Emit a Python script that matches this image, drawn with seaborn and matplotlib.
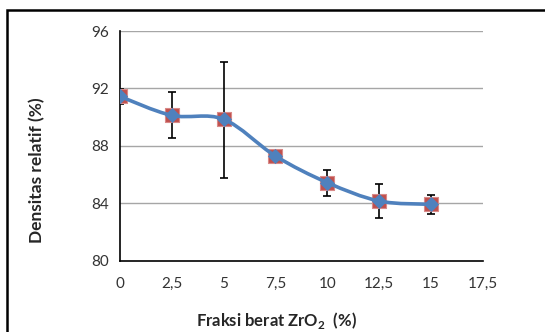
import numpy as np
import pandas as pd
import matplotlib
matplotlib.use("Agg")
import matplotlib.pyplot as plt
import seaborn as sns
from matplotlib.path import Path
from matplotlib.patches import PathPatch, Rectangle

# data
fraksi = [0, 2.5, 5, 7.5, 10, 12.5, 15]
densitas = [91.45, 90.13, 89.86, 87.3, 85.45, 84.17, 83.94]
err_atas = [0.5, 1.63, 4.0, 0.0, 0.87, 1.15, 0.65]
err_bawah = [0.5, 1.6, 4.06, 0.0, 0.9, 1.16, 0.69]
xticks = [0, 2.5, 5, 7.5, 10, 12.5, 15, 17.5]
xticklabels = ["0", "2,5", "5", "7,5", "10", "12,5", "15", "17,5"]
yticks = [80, 84, 88, 92, 96]

df = pd.DataFrame({"x": fraksi, "y": densitas})

sns.set_theme(style="white")
plt.rcParams["font.family"] = ["Lato", "DejaVu Sans"]
plt.rcParams["mathtext.fontset"] = "custom"
plt.rcParams["mathtext.bf"] = "Lato:bold"
plt.rcParams["mathtext.rm"] = "Lato"

fig = plt.figure(figsize=(5.45, 3.32), dpi=100)
ax = fig.add_axes([0.220, 0.214, 0.666, 0.6926])

# outer frame like the pasted Excel box
fig.patches.append(Rectangle((6.5 / 545, -0.1), 1.2, 1 - 10.5 / 332 + 0.1,
                             transform=fig.transFigure, fill=False,
                             edgecolor="black", linewidth=1.8, zorder=0))

for yv in yticks[1:]:
    ax.axhline(yv, color="#A6A6A6", lw=1.0, zorder=1)

ax.errorbar(fraksi, densitas, yerr=[err_bawah, err_atas], fmt="none",
            ecolor="black", elinewidth=1.2, capsize=3, capthick=1.2, zorder=2)

sns.scatterplot(data=df, x="x", y="y", marker="s", s=95, color="#C0504D",
                edgecolor="#D98A88", linewidth=0.8, ax=ax, zorder=3)

# smoothed line (Excel style Catmull-Rom -> bezier)
pts = np.column_stack([fraksi, densitas])
verts = [tuple(pts[0])]
codes = [Path.MOVETO]
n = len(pts)
for i in range(n - 1):
    p0 = pts[max(i - 1, 0)]
    p1 = pts[i]
    p2 = pts[i + 1]
    p3 = pts[min(i + 2, n - 1)]
    c1 = p1 + (p2 - p0) / 6
    c2 = p2 - (p3 - p1) / 6
    verts += [tuple(c1), tuple(c2), tuple(p2)]
    codes += [Path.CURVE4] * 3
ax.add_patch(PathPatch(Path(verts, codes), fill=False, edgecolor="#4F81BD",
                       lw=2.6, zorder=4, capstyle="round", joinstyle="round"))

sns.scatterplot(data=df, x="x", y="y", marker="D", s=60, color="#4F81BD",
                edgecolor="#4F81BD", linewidth=0, ax=ax, zorder=5)

ax.set_xlim(0, 17.5)
ax.set_ylim(80, 96)
ax.set_xticks(xticks)
ax.set_xticklabels(xticklabels)
ax.set_yticks(yticks)
for s in ["top", "right"]:
    ax.spines[s].set_visible(False)
for s in ["left", "bottom"]:
    ax.spines[s].set_color("black")
    ax.spines[s].set_linewidth(1.2)
ax.tick_params(axis="both", direction="inout", length=7, width=1.1,
               color="black", labelsize=11, labelcolor="#333333", pad=4)
ax.tick_params(axis="x", pad=8)
ax.set_xlabel("Fraksi berat ZrO$_{\\mathbf{2}}$  (%)", fontsize=12, fontweight="bold")
ax.set_ylabel("Densitas relatif (%)", fontsize=12.5, fontweight="bold")
ax.xaxis.set_label_coords(0.4325, -0.257)
ax.xaxis.label.set_va("center")
ax.yaxis.set_label_coords(-0.229, 0.396)
ax.yaxis.label.set_va("center")

fig.savefig("out.png", dpi=100)
